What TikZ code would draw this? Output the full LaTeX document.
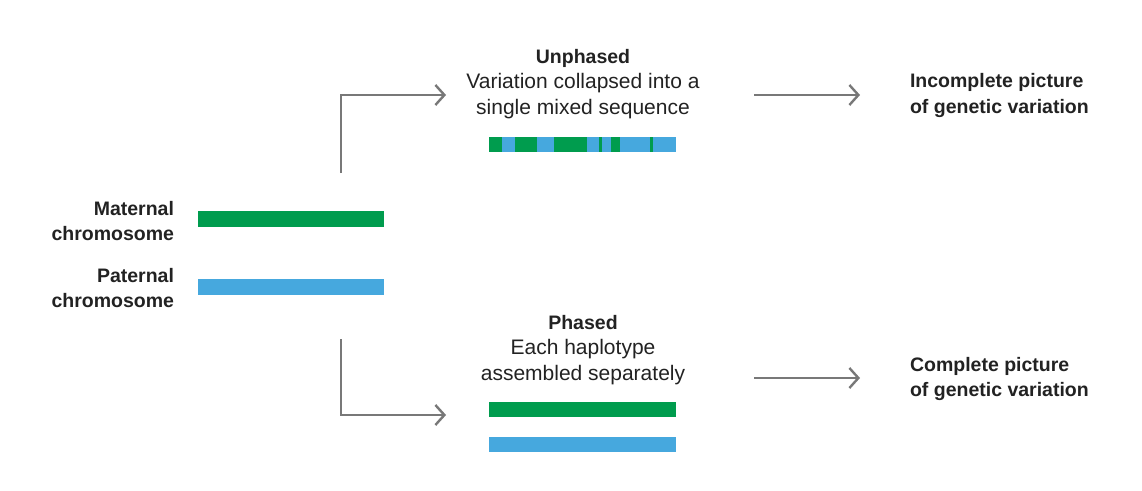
\documentclass[tikz,border=0pt]{standalone}
\usepackage{fontspec}
\setmainfont{Liberation Sans}
\usetikzlibrary{arrows.meta,positioning}
\definecolor{chromgreen}{RGB}{0,156,78}
\definecolor{chromblue}{RGB}{70,168,222}
\definecolor{arrowgray}{RGB}{120,120,120}
\definecolor{inkdark}{RGB}{34,34,34}

\begin{document}
\begin{tikzpicture}[x=1pt,y=-1pt,text=inkdark,
  font=\fontsize{21}{25.5}\selectfont,>={Straight Barb[length=9pt,width=20pt]},
  bar/.style={inner sep=0pt,minimum width=187pt,minimum height=15pt},
  head/.style={font=\fontsize{19.5}{25.5}\selectfont\bfseries},
  flow/.style={->,draw=arrowgray,line width=2.4pt}]
\useasboundingbox (0,0) rectangle (1142,490);
% chromosomes
\node[bar,fill=chromgreen,minimum width=186pt,minimum height=16pt] (mat) at (291,219) {};
\node[bar,fill=chromblue,minimum width=186pt,minimum height=16pt] (pat) at (291,287) {};
\node[anchor=east,align=right,head] (matlbl) at (177.5,221) {Maternal\\chromosome};
\node[anchor=east,align=right,head] (patlbl) at (177.5,288) {Paternal\\chromosome};
% unphased
\node[align=center] (unph) at (583,84) {{\bfseries\fontsize{19.5}{25.5}\selectfont Unphased}\\Variation collapsed into a\\single mixed sequence};
\node[bar,fill=chromblue] (mix) at (582.6,144.5) {};
\foreach \a/\b in {489.3/502,515.3/536.7,554/587.3,599.3/602,610.7/620,650/652.7}
  \fill[chromgreen] (\a,137) rectangle (\b,152);
% phased
\node[align=center] (phs) at (583,350) {{\bfseries\fontsize{19.5}{25.5}\selectfont Phased}\\Each haplotype\\assembled separately};
\node[bar,fill=chromgreen] (hapm) at (582.6,409.5) {};
\node[bar,fill=chromblue] (happ) at (582.6,444.5) {};
% outcomes
\node[anchor=west,align=left,head] (incl) at (906.5,95.5) {Incomplete picture\\of genetic variation};
\node[anchor=west,align=left,head] (coml) at (906.5,379) {Complete picture\\of genetic variation};
% arrows
\coordinate (uptail) at (341,173);
\coordinate (uphead) at (446,95);
\coordinate (dntail) at (341,339);
\coordinate (dnhead) at (446,415);
\coordinate (incfrom) at (754,95);
\coordinate (incto) at (860,95);
\coordinate (comfrom) at (754,378);
\coordinate (comto) at (860,378);
\draw[flow] (uptail) |- (uphead);
\draw[flow] (dntail) |- (dnhead);
\draw[flow] (incfrom) -- (incto);
\draw[flow] (comfrom) -- (comto);
\end{tikzpicture}
\end{document}
